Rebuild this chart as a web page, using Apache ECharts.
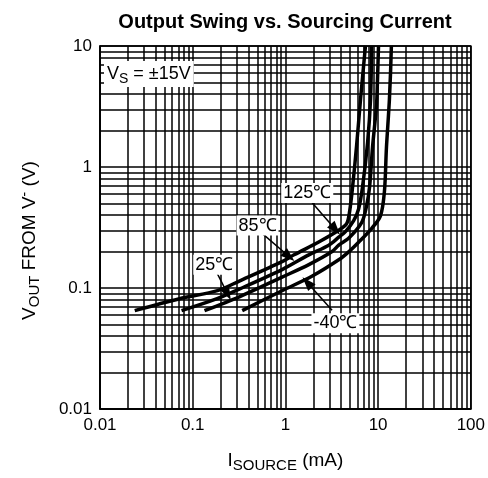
<!DOCTYPE html>
<html><head><meta charset="utf-8">
<script src="https://cdn.jsdelivr.net/npm/echarts@6/dist/echarts.min.js"></script>
<style>html,body{margin:0;padding:0;background:#fff}#c{width:488px;height:478px}</style>
</head><body><div id="c"></div>
<script>
// ---- data (I_SOURCE mA, V_OUT V) ----
const curveNames = ['125℃', '85℃', '25℃', '-40℃'];
const curve125 = [[0.0237,0.065],[0.072,0.0815],[0.185,0.095],[0.318,0.114],[0.92,0.165],[1.24,0.188],[2.29,0.24],[3.76,0.30],[4.58,0.34],[4.93,0.43],[5.31,0.69],[5.86,1.5],[6.47,3.67],[7.3,10]];
const curve85  = [[0.0758,0.065],[0.171,0.080],[0.318,0.098],[0.92,0.142],[1.79,0.188],[2.94,0.226],[3.76,0.263],[4.47,0.294],[5.45,0.36],[6.16,0.45],[6.8,0.69],[7.7,1.59],[8.29,3.67],[8.5,10]];
const curve25  = [[0.134,0.065],[0.318,0.0846],[0.92,0.123],[1.79,0.156],[3.16,0.199],[3.76,0.226],[4.81,0.258],[6.64,0.347],[7.5,0.476],[8.1,0.69],[8.7,1.45],[9.6,3.22],[9.85,5.32],[10.1,10]];
const curveM40 = [[0.342,0.065],[0.92,0.095],[1.93,0.125],[3.76,0.171],[4.81,0.199],[6.16,0.239],[8.5,0.31],[10.6,0.395],[11.7,0.63],[12.3,1.45],[13.25,3.67],[13.9,10]];
const xTicks = [0.01, 0.1, 1, 10, 100];
const yTicks = [0.01, 0.1, 1, 10];
const minorSteps = [2,3,4,5,6,7,8,9];
// annotation anchors (data coordinates)
const labelTexts = ['125℃', '85℃', '25℃', '-40℃'];
const labelAt    = [[1.72,0.609],[0.50,0.328],[0.171,0.156],[3.465,0.0512]];
const arrowFrom  = [[1.944,0.506],[0.565,0.2813],[0.1787,0.1379],[3.186,0.0656]];
const arrowTo    = [[3.465,0.305],[1.093,0.1822],[0.2379,0.0895],[1.718,0.1112]];

const FONT = "'Liberation Sans', Arial, Helvetica, sans-serif";
const curves = [curve125, curve85, curve25, curveM40];

const xMinor = [], yMinor = [];
for (let i = 0; i < xTicks.length - 1; i++) minorSteps.forEach(s => xMinor.push(+(xTicks[i] * s).toPrecision(6)));
for (let i = 0; i < yTicks.length - 1; i++) minorSteps.forEach(s => yMinor.push(+(yTicks[i] * s).toPrecision(6)));

const gridLineStyle = { color: '#000', width: 1.5, type: 'solid' };

const series = curves.map((d, i) => ({
  name: curveNames[i], type: 'line', data: d, smooth: 0.3, showSymbol: false,
  lineStyle: { color: '#000', width: 3.5 }, z: 5, animation: false
}));
series.push({
  type: 'line', data: [], z: 1, silent: true, animation: false,
  markLine: {
    silent: true, symbol: ['none','none'], animation: false,
    label: { show: false }, lineStyle: gridLineStyle,
    data: xMinor.map(v => ({ xAxis: v })).concat(yMinor.map(v => ({ yAxis: v })))
  }
});
series.push({
  type: 'line', data: [], z: 10, silent: true, animation: false,
  markLine: {
    silent: true, animation: false, symbol: ['none', 'triangle'], symbolSize: [10, 14],
    label: { show: false }, lineStyle: { color: '#000', width: 1.5, type: 'solid' },
    data: arrowFrom.map((f, i) => [{ coord: f }, { coord: arrowTo[i] }])
  },
  markPoint: {
    silent: true, animation: false, symbol: 'rect', symbolSize: 0,
    label: { show: true, position: 'inside', color: '#000', fontSize: 18, fontFamily: FONT,
      backgroundColor: '#fff', padding: [1, 2], formatter: p => p.name },
    data: labelAt.map((c, i) => ({ coord: c, name: labelTexts[i], value: 0 }))
  }
});

const chart = echarts.init(document.getElementById('c'), null, { renderer: 'canvas' });
chart.setOption({
  animation: false,
  backgroundColor: '#fff',
  title: { text: 'Output Swing vs. Sourcing Current', left: 280, top: 7, textAlign: 'center',
    textStyle: { fontFamily: FONT, fontWeight: 'bold', fontSize: 20, color: '#000' } },
  grid: { left: 100, right: 15, top: 46, bottom: 60, show: true, borderColor: '#000', borderWidth: 1.5 },
  xAxis: {
    type: 'log', logBase: 10, min: 0.01, max: 100,
    name: '{a|I}{b|SOURCE}{a| (mA)}', nameLocation: 'middle', nameGap: 40,
    nameTextStyle: { rich: {
      a: { fontFamily: FONT, fontSize: 19, color: '#000', lineHeight: 24 },
      b: { fontFamily: FONT, fontSize: 15, color: '#000', lineHeight: 15, verticalAlign: 'bottom' } } },
    axisLine: { show: true, lineStyle: { color: '#000', width: 1.5 } },
    axisTick: { show: false },
    axisLabel: { color: '#000', fontSize: 17, fontFamily: FONT, margin: 8 },
    splitLine: { show: true, lineStyle: gridLineStyle }
  },
  yAxis: {
    type: 'log', logBase: 10, min: 0.01, max: 10,
    name: '{a|V}{b|OUT}{a| FROM V}{c|-}{a| (V)}', nameLocation: 'middle', nameGap: 58,
    nameTextStyle: { padding: [0, 26, 0, 0], rich: {
      a: { fontFamily: FONT, fontSize: 19, color: '#000', lineHeight: 24 },
      b: { fontFamily: FONT, fontSize: 15, color: '#000', lineHeight: 15, verticalAlign: 'bottom' },
      c: { fontFamily: FONT, fontSize: 14, color: '#000', lineHeight: 14, verticalAlign: 'top' } } },
    axisLine: { show: true, lineStyle: { color: '#000', width: 1.5 } },
    axisTick: { show: false },
    axisLabel: { color: '#000', fontSize: 17, fontFamily: FONT, margin: 8 },
    splitLine: { show: true, lineStyle: gridLineStyle }
  },
  graphic: [{
    type: 'text', left: 104, top: 61, z: 20,
    style: {
      text: '{a|V}{b|S}{a| = ±15V}',
      backgroundColor: '#fff', padding: [1, 3],
      rich: {
        a: { fontFamily: FONT, fontSize: 18, fill: '#000', lineHeight: 24 },
        b: { fontFamily: FONT, fontSize: 14, fill: '#000', lineHeight: 14, verticalAlign: 'bottom' }
      }
    }
  }],
  series: series
});
</script>
</body></html>
